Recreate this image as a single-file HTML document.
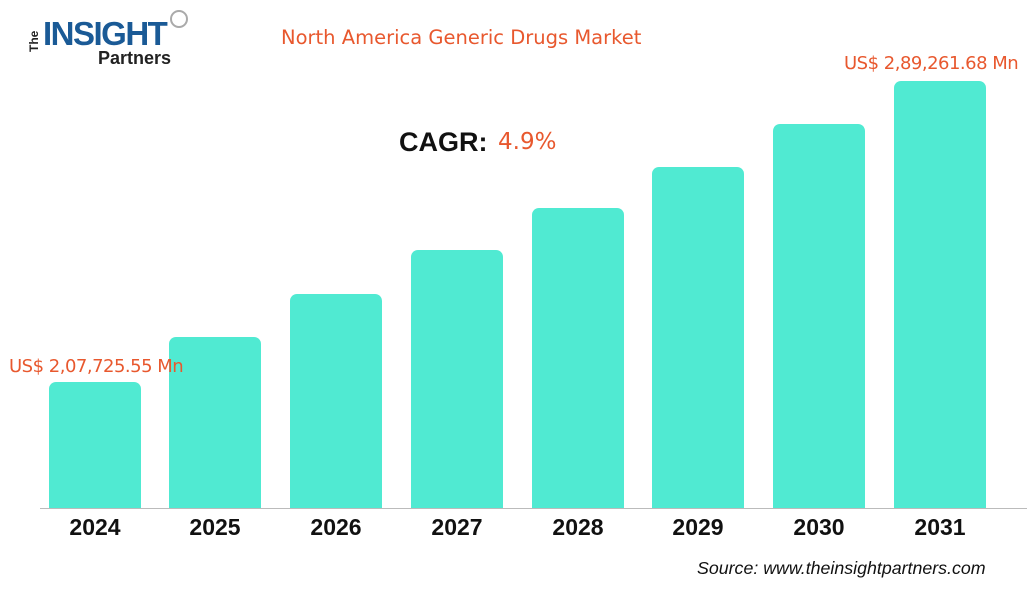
<!DOCTYPE html>
<html><head><style>
body{margin:0;width:1027px;height:591px;background:#fff;position:relative;overflow:hidden;font-family:"Liberation Sans",sans-serif}
.bar{position:absolute;width:92px;background:#50EAD2;border-radius:7px 7px 0 0;bottom:83px}
.yr{position:absolute;top:514px;width:92px;text-align:center;font-weight:bold;font-size:23px;color:#111}
.o{color:#E8582E;position:absolute;font-family:"DejaVu Sans",sans-serif;white-space:nowrap;z-index:2}
</style></head><body>
<div style="position:absolute;left:27px;top:21px;font-size:12px;font-weight:bold;transform:rotate(-90deg);transform-origin:left top;top:52px;color:#222">The</div>
<div style="position:absolute;left:43px;top:16px;font-size:33px;font-weight:bold;color:#1a5a96;letter-spacing:-1.5px;line-height:36px">INSIGHT</div>
<div style="position:absolute;left:170px;top:10px;width:14px;height:14px;border:2px solid #aaa;border-radius:50%"></div>
<div style="position:absolute;left:98px;top:48px;font-size:18px;font-weight:bold;color:#222">Partners</div>
<div class="o" style="left:281px;top:26px;font-size:19.5px">North America Generic Drugs Market</div>
<div style="position:absolute;left:399px;top:127px;font-size:27px;font-weight:bold;color:#111">CAGR:</div>
<div class="o" style="left:498px;top:129px;font-size:23px">4.9%</div>
<div class="o" style="left:9px;top:356px;font-size:18px;letter-spacing:-0.5px">US$ 2,07,725.55 Mn</div>
<div class="o" style="left:844px;top:53px;font-size:18px;letter-spacing:-0.5px">US$ 2,89,261.68 Mn</div>
<div style="position:absolute;left:40px;right:0;top:508px;height:1px;background:#bbb"></div>
<div class="bar" style="left:49px;top:382px"></div>
<div class="bar" style="left:169px;top:337px"></div>
<div class="bar" style="left:290px;top:294px"></div>
<div class="bar" style="left:411px;top:250px"></div>
<div class="bar" style="left:532px;top:208px"></div>
<div class="bar" style="left:652px;top:167px"></div>
<div class="bar" style="left:773px;top:124px"></div>
<div class="bar" style="left:894px;top:81px"></div>
<div class="yr" style="left:49px">2024</div>
<div class="yr" style="left:169px">2025</div>
<div class="yr" style="left:290px">2026</div>
<div class="yr" style="left:411px">2027</div>
<div class="yr" style="left:532px">2028</div>
<div class="yr" style="left:652px">2029</div>
<div class="yr" style="left:773px">2030</div>
<div class="yr" style="left:894px">2031</div>
<div style="position:absolute;left:697px;top:558px;font-size:17.8px;font-style:italic;color:#111;white-space:nowrap">Source: www.theinsightpartners.com</div>
</body></html>
